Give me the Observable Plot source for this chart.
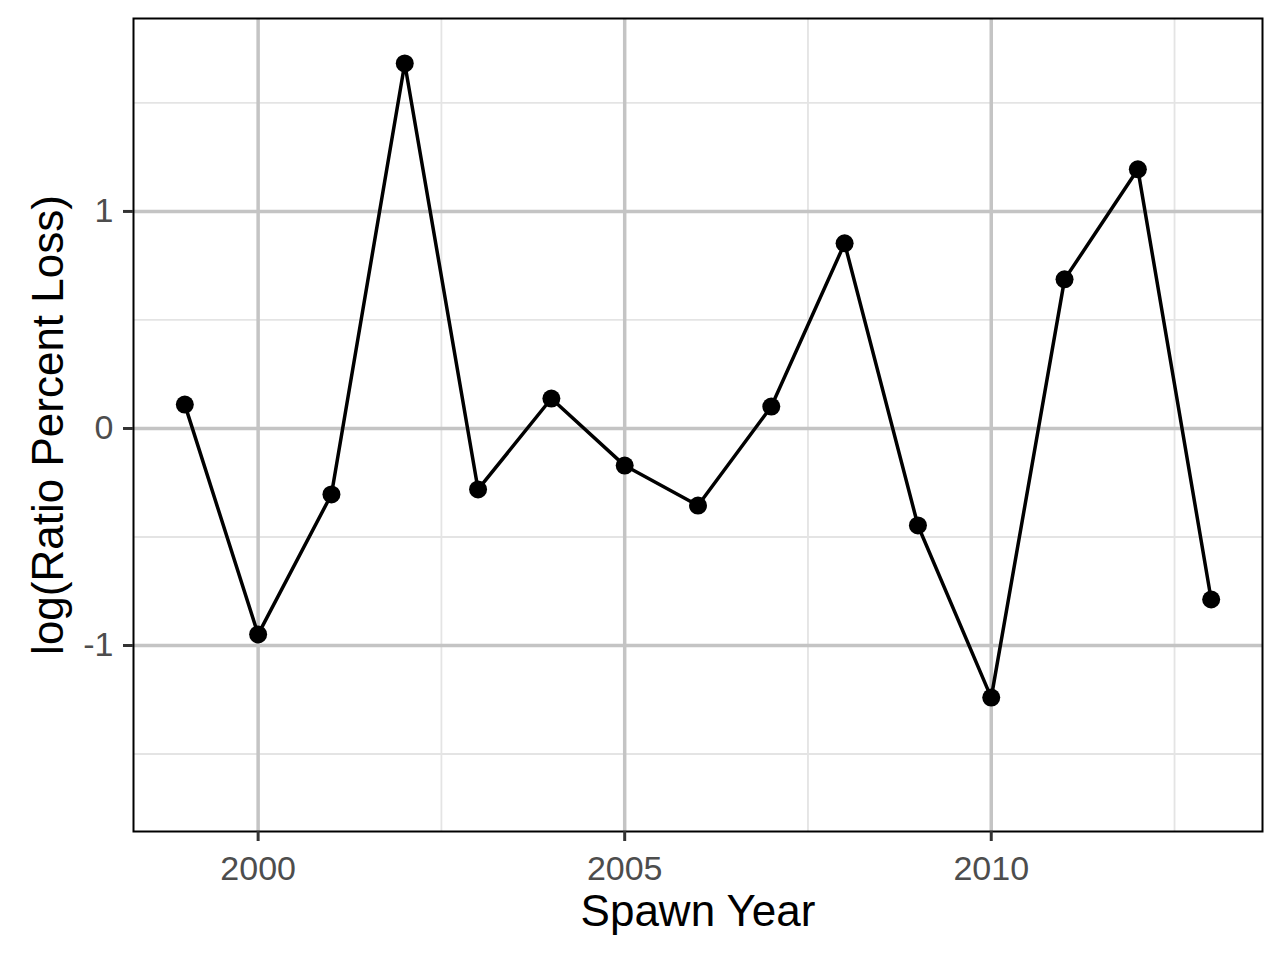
<!DOCTYPE html>
<html>
<head>
<meta charset="utf-8">
<script src="https://cdn.jsdelivr.net/npm/d3@7"></script>
<script src="https://cdn.jsdelivr.net/npm/@observablehq/plot@0.6"></script>
<style>
  html, body { margin: 0; padding: 0; background: #ffffff; }
  #chart { width: 1286px; height: 960px; }
</style>
</head>
<body>
<div id="chart"></div>
<script>
const years = [1999, 2000, 2001, 2002, 2003, 2004, 2005, 2006, 2007, 2008, 2009, 2010, 2011, 2012, 2013];
const values = [0.11, -0.949, -0.304, 1.682, -0.281, 0.138, -0.171, -0.355, 0.101, 0.853, -0.447, -1.24, 0.687, 1.194, -0.788];
const xMajor = [2000, 2005, 2010];
const xMinor = [2002.5, 2007.5, 2012.5];
const yMajor = [-1, 0, 1];
const yMinor = [-1.5, -0.5, 0.5, 1.5];
const xTitle = "Spawn Year";
const yTitle = "log(Ratio Percent Loss)";

const data = years.map((y, i) => ({year: y, value: values[i]}));
const font = "'Liberation Sans', Arial, sans-serif";

const chart = Plot.plot({
  width: 1286,
  height: 960,
  marginLeft: 133,
  marginRight: 24,
  marginTop: 18,
  marginBottom: 129,
  style: {fontFamily: font, background: "#ffffff", overflow: "visible"},
  x: {domain: [1998.3, 2013.7]},
  y: {domain: [-1.857, 1.889]},
  marks: [
    Plot.gridX(xMinor, {stroke: "#E4E4E4", strokeWidth: 1.8, strokeOpacity: 1}),
    Plot.gridY(yMinor, {stroke: "#E4E4E4", strokeWidth: 1.8, strokeOpacity: 1}),
    Plot.gridX(xMajor, {stroke: "#C4C4C4", strokeWidth: 3.5, strokeOpacity: 1}),
    Plot.gridY(yMajor, {stroke: "#C4C4C4", strokeWidth: 3.5, strokeOpacity: 1}),
    Plot.frame({stroke: "#000000", strokeWidth: 2}),
    Plot.axisX(xMajor, {tickSize: 10, tickPadding: 14, strokeWidth: 3, stroke: "#333333", fill: "#4D4D4D", fontSize: 34, tickFormat: d => String(d), label: null}),
    Plot.axisY(yMajor, {tickSize: 10, tickPadding: 10, strokeWidth: 3, stroke: "#333333", fill: "#4D4D4D", fontSize: 34, tickFormat: d => String(d), label: null}),
    Plot.text([xTitle], {frameAnchor: "bottom", text: d => d, dy: 94, fontSize: 44, fill: "#000000", textAnchor: "middle"}),
    Plot.text([yTitle], {frameAnchor: "left", text: d => d, rotate: -90, dx: -85, fontSize: 44, fill: "#000000", textAnchor: "middle"}),
    Plot.line(data, {x: "year", y: "value", stroke: "#000000", strokeWidth: 3.5}),
    Plot.dot(data, {x: "year", y: "value", r: 9, fill: "#000000", stroke: "none"})
  ]
});
document.getElementById("chart").appendChild(chart);
</script>
</body>
</html>
